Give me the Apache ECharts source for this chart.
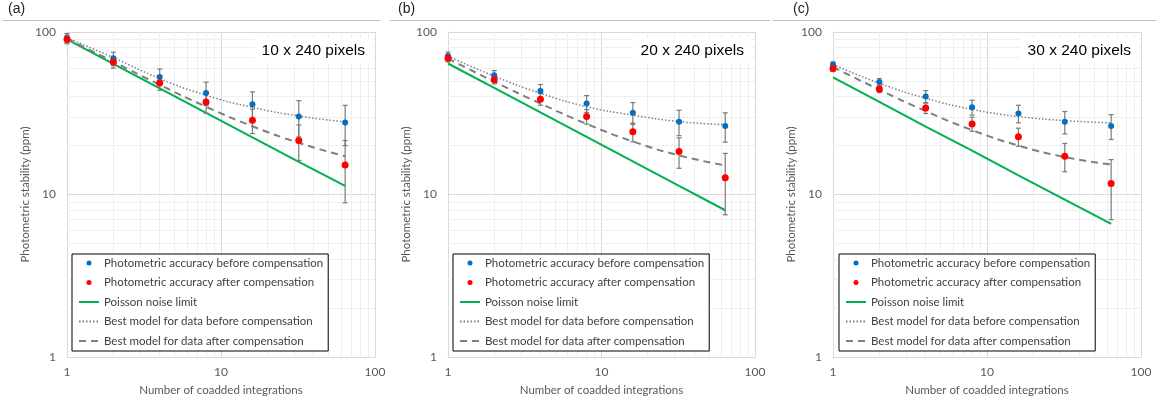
<!DOCTYPE html>
<html>
<head>
<meta charset="utf-8">
<script src="https://cdn.jsdelivr.net/npm/echarts@6/dist/echarts.min.js"></script>
<style>
html, body { margin: 0; padding: 0; background: #fff; }
#chart { width: 1156px; height: 404px; }
</style>
</head>
<body>
<div id="chart"></div>
<script>
// x values: number of coadded integrations
var coadds = [1, 2, 4, 8, 16, 32, 64];
var minorTicks = [2, 3, 4, 5, 6, 7, 8, 9, 20, 30, 40, 50, 60, 70, 80, 90];
var panelTags = ['(a)', '(b)', '(c)'];
var panelLabels = ['10 x 240 pixels', '20 x 240 pixels', '30 x 240 pixels'];

// (a) 10 x 240
var beforeA = [91.9, 68.6, 52.9, 42.2, 35.9, 30.2, 27.7];
var beforeErrA = [6.0, 6.5, 6.3, 6.9, 6.9, 7.6, 7.7];
var afterA = [90.2, 65.4, 48.8, 37.1, 28.6, 21.5, 15.2];
var afterErrA = [5.5, 5.5, 5.0, 5.5, 4.9, 5.3, 6.3];
var poissonA = [90, 63.6, 45, 31.8, 22.5, 15.9, 11.3];
var modelBeforeA = [92, 69.6, 51.7, 40.8, 34.4, 30.4, 28];
var modelAfterA = [91, 65.6, 47.3, 34.7, 26.3, 20.8, 17.2];

// (b) 20 x 240
var beforeB = [71.2, 54.2, 43.4, 36.3, 31.9, 28, 26.4];
var beforeErrB = [4.1, 3.7, 4.1, 4.3, 4.9, 5.0, 5.4];
var afterB = [68.9, 50.9, 38.6, 30.2, 24.3, 18.4, 12.7];
var afterErrB = [3.5, 3.0, 3.2, 3.1, 3.2, 3.9, 5.2];
var poissonB = [64, 45.3, 32, 22.6, 16, 11.3, 8];
var modelBeforeB = [71, 53.5, 42, 34.7, 30.8, 28.1, 26.9];
var modelAfterB = [68.6, 49.5, 36.3, 27.2, 21.2, 17.4, 15.1];

// (c) 30 x 240
var beforeC = [63, 49.3, 40.1, 34.4, 31.5, 28, 26.4];
var beforeErrC = [2.4, 2.4, 3.5, 3.6, 3.9, 4.4, 4.6];
var afterC = [59.6, 44.6, 34.1, 27.2, 22.7, 17.2, 11.7];
var afterErrC = [2.5, 2.2, 2.6, 2.7, 2.9, 3.4, 4.7];
var poissonC = [52.5, 37.1, 26.2, 18.6, 13.1, 9.3, 6.6];
var modelBeforeC = [63, 48.4, 39.1, 33.4, 30.2, 28.5, 27.6];
var modelAfterC = [60.9, 44.1, 32.6, 24.9, 20, 17, 15.3];

var NAME_BEFORE = 'Photometric accuracy before compensation';
var NAME_AFTER = 'Photometric accuracy after compensation';
var NAME_POISSON = 'Poisson noise limit';
var NAME_MB = 'Best model for data before compensation';
var NAME_MA = 'Best model for data after compensation';

var panels = [
  { before: beforeA, beforeErr: beforeErrA, after: afterA, afterErr: afterErrA, poisson: poissonA, mb: modelBeforeA, ma: modelAfterA },
  { before: beforeB, beforeErr: beforeErrB, after: afterB, afterErr: afterErrB, poisson: poissonB, mb: modelBeforeB, ma: modelAfterB },
  { before: beforeC, beforeErr: beforeErrC, after: afterC, afterErr: afterErrC, poisson: poissonC, mb: modelBeforeC, ma: modelAfterC }
];

var gridLeft = [67, 448, 833];
var gridWidth = [308, 307, 308];
var legendLeft = [72, 453, 839];
var labelRight = [784, 405, 18];
var tagLeft = [8, 398, 793];
var sepLines = [[2, 380], [390, 770], [773, 1156]];

var axisFont = 'Lato, "Open Sans", sans-serif';
var gray = '#7f7f7f';

function pairs(vals) {
  return coadds.map(function (c, i) { return [c, vals[i]]; });
}
function bars(vals, errs) {
  return coadds.map(function (c, i) { return [c, vals[i] - errs[i], vals[i] + errs[i]]; });
}
function renderErr(params, api) {
  var x = api.value(0);
  var top = api.coord([x, api.value(2)]);
  var bot = api.coord([x, api.value(1)]);
  var w = 2.5;
  var st = { stroke: '#7a7a7a', lineWidth: 1.2 };
  return {
    type: 'group',
    children: [
      { type: 'line', shape: { x1: top[0], y1: top[1], x2: bot[0], y2: bot[1] }, style: st },
      { type: 'line', shape: { x1: top[0] - w, y1: top[1], x2: top[0] + w, y2: top[1] }, style: st },
      { type: 'line', shape: { x1: bot[0] - w, y1: bot[1], x2: bot[0] + w, y2: bot[1] }, style: st }
    ]
  };
}

var grids = [], xAxes = [], yAxes = [], series = [], legends = [], titles = [], graphics = [];
var minorMarks = [];
minorTicks.forEach(function (t) { minorMarks.push({ xAxis: t }); minorMarks.push({ yAxis: t }); });

panels.forEach(function (p, i) {
  grids.push({ left: gridLeft[i], top: 32, width: gridWidth[i], height: 325 });
  xAxes.push({
    type: 'log', logBase: 10, min: 1, max: 100, gridIndex: i,
    name: 'Number of coadded integrations', nameLocation: 'middle', nameGap: 27,
    nameTextStyle: { color: '#595959', fontSize: 11.5, fontFamily: axisFont },
    axisLine: { show: true, lineStyle: { color: '#d9d9d9' } },
    axisTick: { show: false },
    axisLabel: { color: '#595959', fontSize: 12, fontFamily: axisFont, margin: 9 },
    splitLine: { show: true, lineStyle: { color: '#d9d9d9' } }
  });
  yAxes.push({
    type: 'log', logBase: 10, min: 1, max: 100, gridIndex: i,
    name: 'Photometric stability (ppm)', nameLocation: 'middle', nameGap: 27,
    nameTextStyle: { color: '#595959', fontSize: 11.5, fontFamily: axisFont },
    axisLine: { show: true, lineStyle: { color: '#d9d9d9' } },
    axisTick: { show: false },
    axisLabel: { color: '#595959', fontSize: 12, fontFamily: axisFont, margin: 11 },
    splitLine: { show: true, lineStyle: { color: '#d9d9d9' } }
  });

  series.push({
    name: NAME_POISSON, type: 'line', xAxisIndex: i, yAxisIndex: i,
    data: pairs(p.poisson), symbol: 'none', z: 2, animation: false,
    lineStyle: { color: '#00b050', width: 2 }, itemStyle: { color: '#00b050' },
    markLine: {
      silent: true, symbol: 'none', z: 1, animation: false,
      label: { show: false },
      lineStyle: { color: '#efefef', width: 1, type: 'solid' },
      emphasis: { disabled: true },
      data: minorMarks
    }
  });
  series.push({
    name: NAME_MB, type: 'line', xAxisIndex: i, yAxisIndex: i,
    data: pairs(p.mb), symbol: 'none', smooth: true, z: 2, animation: false,
    lineStyle: { color: gray, width: 1.5, type: [1.5, 2] }, itemStyle: { color: gray }
  });
  series.push({
    name: NAME_MA, type: 'line', xAxisIndex: i, yAxisIndex: i,
    data: pairs(p.ma), symbol: 'none', smooth: true, z: 2, animation: false,
    lineStyle: { color: gray, width: 2, type: [7, 5] }, itemStyle: { color: gray }
  });
  series.push({
    name: 'err-before', type: 'custom', xAxisIndex: i, yAxisIndex: i,
    data: bars(p.before, p.beforeErr), renderItem: renderErr,
    encode: { x: 0, y: [1, 2] }, z: 3, silent: true, animation: false
  });
  series.push({
    name: 'err-after', type: 'custom', xAxisIndex: i, yAxisIndex: i,
    data: bars(p.after, p.afterErr), renderItem: renderErr,
    encode: { x: 0, y: [1, 2] }, z: 3, silent: true, animation: false
  });
  series.push({
    name: NAME_BEFORE, type: 'scatter', xAxisIndex: i, yAxisIndex: i,
    data: pairs(p.before), symbolSize: 6, z: 4, animation: false,
    itemStyle: { color: '#0070c0', opacity: 1 }
  });
  series.push({
    name: NAME_AFTER, type: 'scatter', xAxisIndex: i, yAxisIndex: i,
    data: pairs(p.after), symbolSize: 7, z: 4, animation: false,
    itemStyle: { color: '#ff0000', opacity: 1 }
  });

  legends.push({
    orient: 'vertical', left: legendLeft[i], top: 254,
    backgroundColor: '#fff', borderColor: '#000', borderWidth: 1,
    padding: [0, 5, 1, 6], itemGap: 1.5, itemWidth: 20, itemHeight: 5,
    selectedMode: false,
    textStyle: { color: '#404040', fontSize: 11.5, fontFamily: axisFont, lineHeight: 18 },
    data: [
      { name: NAME_BEFORE, icon: 'circle' },
      { name: NAME_AFTER, icon: 'circle' },
      { name: NAME_POISSON, itemStyle: { opacity: 0 } },
      { name: NAME_MB, itemStyle: { opacity: 0 } },
      { name: NAME_MA, itemStyle: { opacity: 0 } }
    ]
  });

  titles.push({
    text: panelLabels[i], right: labelRight[i], top: 39,
    backgroundColor: '#fff', padding: [4, 7, 4, 7],
    textStyle: { fontFamily: '"Liberation Sans", Arial, sans-serif', fontSize: 15.5, fontWeight: 'normal', color: '#000', lineHeight: 16 }
  });
  titles.push({
    text: panelTags[i], left: tagLeft[i], top: 2, padding: 0,
    textStyle: { fontFamily: '"Liberation Sans", Arial, sans-serif', fontSize: 14, fontWeight: 'normal', color: '#222' }
  });
  graphics.push({
    type: 'line', silent: true,
    shape: { x1: sepLines[i][0], y1: 20.5, x2: sepLines[i][1], y2: 20.5 },
    style: { stroke: '#c0c0c0', lineWidth: 1 }
  });
});

var chart = echarts.init(document.getElementById('chart'));
chart.setOption({
  animation: false,
  title: titles,
  legend: legends,
  grid: grids,
  xAxis: xAxes,
  yAxis: yAxes,
  graphic: graphics,
  series: series
});
window.addEventListener('resize', function () { chart.resize(); });
</script>
</body>
</html>
